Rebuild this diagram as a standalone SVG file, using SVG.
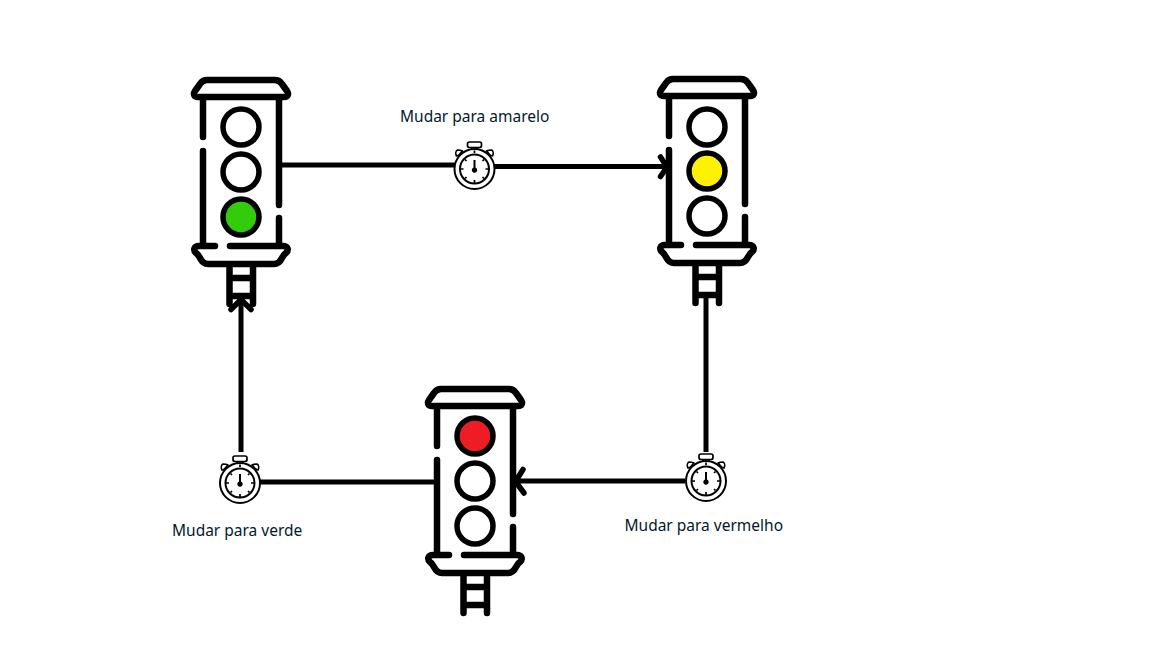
<svg xmlns="http://www.w3.org/2000/svg" width="1152" height="648" viewBox="0 0 1152 648">
<style>
.s{fill:none;stroke:#000;stroke-linecap:round;stroke-linejoin:round}
.b{stroke-width:6.500}
.c{stroke-width:5.500}
.l{stroke-width:5;stroke-linecap:butt}
.t{stroke-width:2}
.f{stroke-width:1.700;stroke-linecap:butt}
text{font-family:"Noto Sans","Open Sans","Liberation Sans",sans-serif;font-size:15.500px;fill:#04182c}
</style>
<defs>
<g id="housing">
<path class="s b" d="M-38 -30H-43C-47 -30 -48 -33 -46 -36L-41 -43C-39 -46 -37 -47 -34 -47H34C37 -47 39 -46 41 -43L46 -36C48 -33 47 -30 43 -30H-38"/>
<path class="s b" d="M-38 -28V10M-38 24V118M38 -28V78M38 91V118"/>
<path class="s b" d="M-26 119H-42C-47 119 -48 123 -45 126C-43 127 -42 129 -41 131C-39 135 -37 137 -33 137H33C37 137 39 135 41 131C42 129 43 127 45 126C48 123 47 119 42 119H-11"/>
<path class="s b" d="M-11.500 138V177M12 138V177M-11.500 151H12M-11.500 169H12"/>
</g>
<g id="clock">
<circle class="s t" r="20" style="fill:#fff"/>
<circle class="s t" r="14.500"/>
<path class="s f" d="M-5 -27H5A2 2 0 0 1 7 -25V-23.500A2 2 0 0 1 5 -21.500H-5A2 2 0 0 1 -7 -23.500V-25A2 2 0 0 1 -5 -27ZM-3 -21.500V-19.500M3 -21.500V-19.500"/>
<path class="s f" d="M-13 -17C-15 -14 -17 -13 -18 -13C-19 -15 -19 -18 -17 -19C-15 -19 -14 -19 -12 -18ZM13 -17C15 -14 17 -13 18 -13C19 -15 19 -18 17 -19C15 -19 14 -19 12 -18Z"/>
<path d="M-1 -9H1V-1.500A2.700 2.700 0 1 1 -1 -1.500Z" fill="#000"/>
<path class="s f" d="M0 -18.500V-16M0 11V14M-14 0H-11M11 0H14M-9.500 -9.500L-8 -8M9.500 -9.500L8 -8M-9.500 9.500L-8 8M9.500 9.500L8 8"/>
</g>
</defs>
<rect width="1152" height="648" fill="#fff"/>
<g id="connectors">
<path class="s l" d="M282 165H456M494 166.500H667"/>
<path class="s c" d="M660.500 157L667 167L660.500 176.500"/>
<path class="s l" d="M706 296V452M685 481H516"/>
<path class="s c" d="M523 469.500L515.500 481.500L524 493"/>
<path class="s l" d="M436 482H260M241 452V300"/>
<path class="s c" d="M231 309.500L241 299.500L251 309.500"/>
</g>
<g id="light-green">
<use href="#housing" x="241" y="127"/>
<circle class="s c" cx="241" cy="127" r="18"/>
<circle class="s c" cx="241" cy="172" r="18"/>
<circle class="s c" cx="241" cy="217" r="18" style="fill:#33cc0a"/>
</g>
<g id="light-yellow">
<use href="#housing" x="707" y="126"/>
<circle class="s c" cx="707" cy="127" r="18"/>
<circle class="s c" cx="707" cy="171" r="18" style="fill:#fff200"/>
<circle class="s c" cx="707" cy="216" r="18"/>
</g>
<g id="light-red">
<use href="#housing" x="475" y="436"/>
<circle class="s c" cx="475" cy="436" r="18" style="fill:#ee1c25"/>
<circle class="s c" cx="475" cy="481" r="18"/>
<circle class="s c" cx="475" cy="526" r="18"/>
</g>
<g id="timer-amarelo">
<use href="#clock" x="474.500" y="169"/>
<text x="400" y="122">Mudar para amarelo</text>
</g>
<g id="timer-vermelho">
<use href="#clock" x="706" y="481"/>
<text x="624.500" y="531">Mudar para vermelho</text>
</g>
<g id="timer-verde">
<use href="#clock" x="240" y="483"/>
<text x="172" y="536">Mudar para verde</text>
</g>
</svg>
